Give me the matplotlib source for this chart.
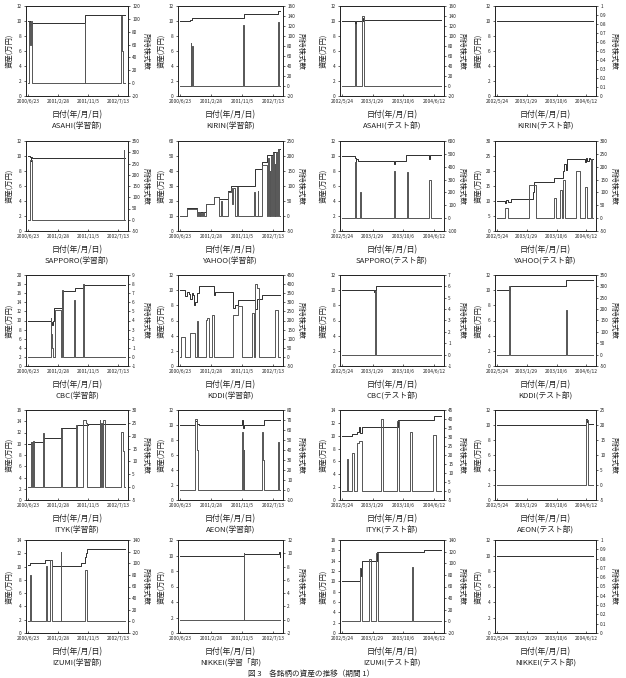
import matplotlib
matplotlib.use("Agg")
import matplotlib.pyplot as plt
import numpy as np

plt.rcParams['font.family'] = ['Noto Sans CJK JP', 'DejaVu Sans']

W, H = 626, 678
END = 805          # last day of each period (days from start)

train_ticks = ["2000/6/23", "2001/2/28", "2001/11/5", "2002/7/13"]
test_ticks = ["2002/5/24", "2003/1/29", "2003/10/6", "2004/6/12"]
tick_days = [0, 250, 500, 750]

# ---- data : day offset from period start / value at each change point ----
# asset = 資産(万円) (left axis), share = 所持株式数 (right axis)
asahi_tr_asset_day = [0, 10, 16, 22, 36, 475]
asahi_tr_asset = [10.0, 9.4, 10.0, 9.6, 9.7, 10.75]
asahi_tr_share_day = [0, 12, 20, 26, 32, 36, 474, 477, 776, 782, 788]
asahi_tr_share = [0, 95, 60, 97, 40, 0, 94, 0, 104, 50, 0]

kirin_tr_asset_day = [0, 80, 100, 515, 790]
kirin_tr_asset = [10.0, 10.2, 10.4, 11.0, 11.35]
kirin_tr_share_day = [0, 86, 92, 96, 103, 512, 516, 793, 799]
kirin_tr_share = [0, 86, 0, 80, 0, 122, 0, 129, 0]

asahi_te_asset_day = [0, 108, 112, 118, 160, 170, 178]
asahi_te_asset = [10.0, 9.6, 9.9, 10.0, 10.4, 10.0, 10.15]
asahi_te_share_day = [0, 108, 116, 160, 178]
asahi_te_share = [0, 125, 0, 140, 0]

kirin_te_asset_day = [0]
kirin_te_asset = [10.0]
kirin_te_share_day = [0]
kirin_te_share = [0]

sapporo_tr_asset_day = [0, 22, 26, 30, 34]
sapporo_tr_asset = [10.0, 9.9, 9.3, 9.9, 9.8]
sapporo_tr_share_day = [0, 20, 32, 795, 800]
sapporo_tr_share = [0, 265, 0, 308, 0]

yahoo_tr_asset_day = [0, 54, 137, 207, 276, 317, 387, 414, 484, 608, 664, 705, 747, 790]
yahoo_tr_asset = [10.0, 15.3, 12.7, 18.2, 22.7, 21.5, 27.0, 30.0, 30.0, 41.5, 46.0, 50.4, 52.7, 55.0]
yahoo_tr_share_day = [0, 54, 137, 145, 150, 160, 166, 172, 178, 188, 194, 207, 276, 317, 330, 336,
                      387, 414, 420, 430, 440, 460, 466, 600, 606, 625, 632, 664, 705, 710, 716,
                      722, 728, 735, 741, 750, 756, 762, 768, 775, 781, 788, 795]
yahoo_tr_share = [0, 25, 0, 12, 0, 15, 0, 10, 0, 14, 0, 40, 62, 0, 50, 0,
                  80, 95, 40, 95, 0, 98, 0, 80, 0, 85, 0, 170, 0, 195, 0,
                  150, 0, 200, 0, 210, 0, 175, 0, 215, 0, 225, 0]

sapporo_te_asset_day = [0, 105, 112, 118, 128, 422, 430, 518, 708, 720]
sapporo_te_asset = [10.0, 9.8, 9.2, 9.6, 9.4, 9.0, 9.4, 10.2, 9.6, 10.2]
sapporo_te_share_day = [0, 103, 118, 148, 152, 420, 432, 530, 535, 706, 728]
sapporo_te_share = [0, 440, 0, 200, 0, 370, 0, 360, 0, 295, 0]

yahoo_te_asset_day = [0, 68, 80, 92, 117, 300, 310, 482, 556, 566, 576, 587, 740, 748, 756, 770, 780]
yahoo_te_asset = [10.0, 9.3, 10.5, 9.8, 10.8, 13.0, 16.3, 17.7, 20.0, 22.5, 20.5, 24.0, 23.0, 24.5, 23.2, 24.3, 24.0]
yahoo_te_share_day = [0, 68, 92, 268, 329, 480, 496, 526, 542, 556, 572, 660, 695, 740, 755, 785, 800]
yahoo_te_share = [0, 40, 0, 127, 0, 80, 0, 110, 0, 150, 0, 185, 0, 120, 0, 230, 0]

cbc_tr_asset_day = [0, 193, 200, 210, 220, 285, 395, 465]
cbc_tr_asset = [10.0, 9.6, 9.0, 10.0, 12.7, 16.4, 17.2, 17.9]
cbc_tr_share_day = [0, 188, 196, 203, 212, 222, 276, 283, 290, 382, 393, 455, 462]
cbc_tr_share = [0, 4.3, 2.5, 1, 0, 5.2, 0, 7.3, 0, 6.3, 0, 8.0, 0]

kddi_tr_asset_day = [0, 40, 55, 70, 80, 95, 105, 115, 125, 135, 150, 272, 285, 425, 440, 470, 605, 620, 660]
kddi_tr_asset = [10.0, 9.2, 9.8, 9.5, 8.9, 9.6, 9.3, 8.0, 8.5, 9.6, 10.5, 9.3, 9.7, 7.6, 8.1, 8.7, 7.5, 8.9, 9.4]
kddi_tr_share_day = [0, 13, 40, 82, 123, 137, 146, 207, 220, 234, 262, 276, 428, 470, 497,
                     580, 594, 608, 622, 636, 769, 788]
kddi_tr_share = [0, 110, 0, 130, 0, 200, 0, 205, 215, 0, 230, 0, 230, 280, 0,
                 240, 0, 400, 380, 0, 260, 0]

cbc_te_asset_day = [0, 265, 272, 277]
cbc_te_asset = [10.0, 9.8, 10.0, 10.6]
cbc_te_share_day = [0, 272, 280]
cbc_te_share = [0, 5.6, 0]

kddi_te_asset_day = [0, 109, 583]
kddi_te_asset = [10.0, 10.6, 11.3]
kddi_te_share_day = [0, 104, 112, 580, 586]
kddi_te_share = [0, 300, 0, 197, 0]

ityk_tr_asset_day = [0, 25, 45, 135, 278, 405, 495]
ityk_tr_asset = [10.0, 10.3, 10.4, 11.0, 12.8, 13.3, 13.5]
ityk_tr_share_day = [0, 24, 37, 46, 50, 126, 132, 274, 281, 398, 410, 458, 478, 491,
                     596, 602, 610, 616, 625, 637, 775, 785, 794]
ityk_tr_share = [0, 17.5, 0, 18, 0, 21, 0, 22.5, 0, 24, 0, 26, 25, 0,
                 26, 0, 25, 0, 26, 0, 21.5, 14, 0]

aeon_tr_asset_day = [0, 125, 135, 150, 500, 510, 520, 674]
aeon_tr_asset = [10.0, 10.6, 10.2, 10.0, 10.7, 9.6, 10.0, 10.7]
aeon_tr_share_day = [0, 125, 140, 146, 500, 505, 516, 520, 661, 668, 674, 791, 800]
aeon_tr_share = [0, 71, 40, 0, 58, 0, 40, 0, 58, 30, 0, 48, 0]

ityk_te_asset_day = [0, 80, 120, 138, 148, 160, 455, 750]
ityk_te_asset = [10.0, 10.3, 10.6, 11.4, 10.5, 11.4, 12.5, 13.0]
ityk_te_share_day = [0, 41, 52, 82, 96, 124, 138, 165, 318, 337, 448, 462, 553, 572, 739, 761]
ityk_te_share = [0, 18, 0, 21, 0, 26.5, 28, 0, 40, 0, 39, 0, 33, 0, 31, 0]

aeon_te_asset_day = [0, 748, 756, 766]
aeon_te_asset = [10.0, 10.8, 10.4, 10.1]
aeon_te_share_day = [0, 748, 767]
aeon_te_share = [0, 21.7, 0]

izumi_tr_asset_day = [0, 18, 142, 200, 440, 472, 485, 492]
izumi_tr_asset = [10.2, 10.6, 11.0, 10.15, 10.5, 11.5, 12.0, 12.6]
izumi_tr_share_day = [0, 18, 26, 147, 156, 183, 200, 271, 279, 472, 492]
izumi_tr_share = [0, 79, 0, 95, 0, 105, 0, 119, 0, 89, 0]

nikkei_tr_asset_day = [0, 518, 798, 802]
nikkei_tr_asset = [10.0, 10.25, 10.5, 9.8]
nikkei_tr_share_day = [0, 514, 520]
nikkei_tr_share = [0, 10, 0]

izumi_te_asset_day = [0, 150, 158, 166, 285, 668]
izumi_te_asset = [10.0, 12.5, 11.0, 14.0, 15.6, 16.0]
izumi_te_share_day = [0, 150, 165, 223, 236, 277, 290, 572, 582]
izumi_te_share = [0, 92, 0, 108, 0, 117, 0, 93, 0]

nikkei_te_asset_day = [0]
nikkei_te_asset = [10.0]
nikkei_te_share_day = [0]
nikkei_te_share = [0]

# ---- panel setup: title, period, data, left axis (lo, hi, step), right axis ----
panels = [
    ("ASAHI(学習部)", "tr", asahi_tr_asset_day, asahi_tr_asset, asahi_tr_share_day, asahi_tr_share, (0, 12, 2), (-20, 120, 20)),
    ("KIRIN(学習部)", "tr", kirin_tr_asset_day, kirin_tr_asset, kirin_tr_share_day, kirin_tr_share, (0, 12, 2), (-20, 160, 20)),
    ("ASAHI(テスト部)", "te", asahi_te_asset_day, asahi_te_asset, asahi_te_share_day, asahi_te_share, (0, 12, 2), (-20, 160, 20)),
    ("KIRIN(テスト部)", "te", kirin_te_asset_day, kirin_te_asset, kirin_te_share_day, kirin_te_share, (0, 12, 2), (0, 1, 0.1)),
    ("SAPPORO(学習部)", "tr", sapporo_tr_asset_day, sapporo_tr_asset, sapporo_tr_share_day, sapporo_tr_share, (0, 12, 2), (-50, 350, 50)),
    ("YAHOO(学習部)", "tr", yahoo_tr_asset_day, yahoo_tr_asset, yahoo_tr_share_day, yahoo_tr_share, (0, 60, 10), (-50, 250, 50)),
    ("SAPPORO(テスト部)", "te", sapporo_te_asset_day, sapporo_te_asset, sapporo_te_share_day, sapporo_te_share, (0, 12, 2), (-100, 600, 100)),
    ("YAHOO(テスト部)", "te", yahoo_te_asset_day, yahoo_te_asset, yahoo_te_share_day, yahoo_te_share, (0, 30, 5), (-50, 300, 50)),
    ("CBC(学習部)", "tr", cbc_tr_asset_day, cbc_tr_asset, cbc_tr_share_day, cbc_tr_share, (0, 20, 2), (-1, 9, 1)),
    ("KDDI(学習部)", "tr", kddi_tr_asset_day, kddi_tr_asset, kddi_tr_share_day, kddi_tr_share, (0, 12, 2), (-50, 450, 50)),
    ("CBC(テスト部)", "te", cbc_te_asset_day, cbc_te_asset, cbc_te_share_day, cbc_te_share, (0, 12, 2), (-1, 7, 1)),
    ("KDDI(テスト部)", "te", kddi_te_asset_day, kddi_te_asset, kddi_te_share_day, kddi_te_share, (0, 12, 2), (-50, 350, 50)),
    ("ITYK(学習部)", "tr", ityk_tr_asset_day, ityk_tr_asset, ityk_tr_share_day, ityk_tr_share, (0, 16, 2), (-5, 30, 5)),
    ("AEON(学習部)", "tr", aeon_tr_asset_day, aeon_tr_asset, aeon_tr_share_day, aeon_tr_share, (0, 12, 2), (-10, 80, 10)),
    ("ITYK(テスト部)", "te", ityk_te_asset_day, ityk_te_asset, ityk_te_share_day, ityk_te_share, (0, 14, 2), (-5, 45, 5)),
    ("AEON(テスト部)", "te", aeon_te_asset_day, aeon_te_asset, aeon_te_share_day, aeon_te_share, (0, 12, 2), (-5, 25, 5)),
    ("IZUMI(学習部)", "tr", izumi_tr_asset_day, izumi_tr_asset, izumi_tr_share_day, izumi_tr_share, (0, 14, 2), (-20, 140, 20)),
    ("NIKKEI(学習「部)", "tr", nikkei_tr_asset_day, nikkei_tr_asset, nikkei_tr_share_day, nikkei_tr_share, (0, 12, 2), (-2, 12, 2)),
    ("IZUMI(テスト部)", "te", izumi_te_asset_day, izumi_te_asset, izumi_te_share_day, izumi_te_share, (0, 18, 2), (-20, 140, 20)),
    ("NIKKEI(テスト部)", "te", nikkei_te_asset_day, nikkei_te_asset, nikkei_te_share_day, nikkei_te_share, (0, 12, 2), (0, 1, 0.1)),
]

cols = [(26, 128), (178, 283), (340, 444), (495, 596)]
rows = [(6, 96), (141, 231), (275, 366), (410, 500), (540, 633)]

ink = '#222222'
asset_col = '#2e2e2e'
share_col = '#555555'


def step_series(day, val):
    return np.r_[day, END], np.r_[val, val[-1]]


def set_y(axis, lo, hi, step):
    ticks = np.arange(lo, hi + step / 2, step)
    axis.set_ylim(lo, hi)
    axis.set_yticks(ticks, ['%g' % round(t, 2) for t in ticks])


fig = plt.figure(figsize=(W / 100, H / 100), dpi=100)

for i, (title, period, a_day, a_val, s_day, s_val, lax, rax) in enumerate(panels):
    r, c = divmod(i, 4)
    x0, x1 = cols[c]
    y0, y1 = rows[r]
    ax = fig.add_axes([x0 / W, 1 - y1 / H, (x1 - x0) / W, (y1 - y0) / H])
    ax2 = ax.twinx()

    x, y = step_series(a_day, a_val)
    ax.plot(x, y, drawstyle='steps-post', color=asset_col, lw=0.7)
    x, y = step_series(s_day, s_val)
    ax2.plot(x, y, drawstyle='steps-post', color=share_col, lw=0.7)

    ax.set_xlim(-15, 830)
    ax.set_xticks(tick_days, train_ticks if period == "tr" else test_ticks)
    set_y(ax, *lax)
    set_y(ax2, *rax)

    for a in (ax, ax2):
        for sp in a.spines.values():
            sp.set_linewidth(0.6)
            sp.set_color(ink)
    ax.tick_params(axis='x', direction='in', length=1.5, width=0.5, pad=2.5,
                   labelsize=3.5, colors=ink)
    ax.tick_params(axis='y', direction='out', length=1.5, width=0.5, pad=1.5,
                   labelsize=3.4, colors=ink)
    ax2.tick_params(axis='y', direction='out', length=1.5, width=0.5, pad=1.5,
                    labelsize=3.4, colors=ink)

    yc = 1 - (y0 + y1) / 2 / H
    fig.text((x0 - 17) / W, yc, "資産(万円)", rotation=90, ha='center', va='center',
             fontsize=5.3, color=ink)
    fig.text((x1 + 18) / W, yc, "所持株式数", rotation=270, ha='center', va='center',
             fontsize=5.3, color=ink)
    xc = (x0 + x1) / 2 / W
    fig.text(xc, 1 - (y1 + 19) / H, "日付(年/月/日)", ha='center', va='center',
             fontsize=5.7, color=ink)
    fig.text(xc, 1 - (y1 + 29) / H, title, ha='center', va='center',
             fontsize=5.6, color=ink)

fig.text(0.497, 1 - 673.5 / H, "図 3　各銘柄の資産の推移（期間 1）", ha='center', va='center',
         fontsize=5.5, color=ink)

fig.savefig("out.png", dpi=100)
